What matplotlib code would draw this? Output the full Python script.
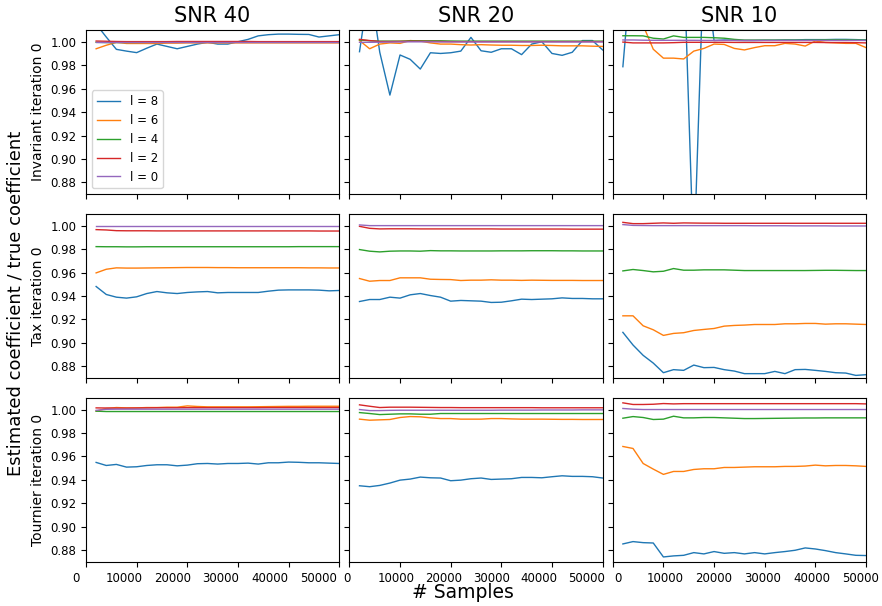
import numpy as np
import matplotlib
matplotlib.use('Agg')
import matplotlib.pyplot as plt
from matplotlib.transforms import ScaledTranslation
from matplotlib.ticker import FormatStrFormatter

# number of samples
samples = np.arange(2000, 50001, 2000)

degrees = [8, 6, 4, 2, 0]
snrs = [40, 20, 10]
methods = ['Invariant', 'Tax', 'Tournier']

# estimated / true coefficient, rows: l = 8, 6, 4, 2, 0
inv_snr40 = [
    [1.015, 1.004, 0.9935, 0.992, 0.9907, 0.9945, 0.998, 0.996, 0.994, 0.996, 0.998, 0.9995, 0.998,
     0.998, 1.000, 1.002, 1.005, 1.006, 1.0065, 1.0065, 1.0063, 1.0062, 1.004, 1.005, 1.006],
    [0.994, 0.997, 0.9995, 0.9985, 0.9985, 0.9985, 0.9985, 0.9988, 0.9988, 0.999, 0.999, 0.999, 0.999,
     0.999, 0.999, 0.999, 0.999, 0.999, 0.999, 0.999, 0.999, 0.999, 0.999, 0.999, 0.999],
    [0.9995, 0.9993, 0.9993, 0.9994, 0.9994, 0.9995, 0.9995, 0.9995, 0.9995, 0.9995, 0.9995, 0.9995, 0.9995,
     0.9995, 0.9995, 0.9995, 0.9995, 0.9995, 0.9995, 0.9995, 0.9995, 0.9995, 0.9995, 0.9995, 0.9995],
    [1.0006, 1.0004, 1.0002, 1.0001, 1.0001, 1.0001, 1.0001, 1.0001, 1.0002, 1.0002, 1.0002, 1.0002, 1.0002,
     1.0002, 1.0002, 1.0002, 1.0001, 1.0001, 1.0001, 1.0001, 1.0001, 1.0001, 1.0001, 1.0001, 1.0001],
    [1.0000, 1.0000, 1.0000, 1.0000, 1.0000, 1.0000, 1.0000, 1.0000, 1.0000, 1.0000, 1.0000, 1.0000, 1.0000,
     1.0000, 1.0000, 1.0000, 1.0000, 1.0000, 1.0000, 1.0000, 1.0000, 1.0000, 1.0000, 1.0000, 1.0000],
]
inv_snr20 = [
    [0.9915, 1.05, 0.991, 0.9545, 0.9887, 0.985, 0.9767, 0.9906, 0.990, 0.9906, 0.992, 1.0037, 0.9923,
     0.991, 0.994, 0.994, 0.989, 0.998, 1.000, 0.990, 0.9884, 0.991, 1.001, 1.001, 0.993],
    [1.001, 0.994, 0.998, 0.999, 0.9986, 1.001, 1.0005, 0.999, 0.998, 0.998, 0.9975, 0.9972, 0.9975,
     0.9972, 0.997, 0.997, 0.9968, 0.9968, 0.997, 0.9968, 0.9965, 0.9965, 0.9965, 0.9962, 0.996],
    [1.0015, 1.0008, 1.0005, 1.0005, 1.0005, 1.0008, 1.0008, 1.0008, 1.0008, 1.0006, 1.0005, 1.0005, 1.0005,
     1.0005, 1.0005, 1.0005, 1.0005, 1.0005, 1.0005, 1.0005, 1.0005, 1.0005, 1.0005, 1.0005, 1.0005],
    [1.002, 1.001, 1.0002, 1.0002, 1.0003, 1.0004, 1.0004, 1.0003, 1.0002, 1.0001, 1.0001, 1.0001, 1.0001,
     1.0001, 1.0001, 1.0001, 1.0001, 1.0001, 1.0001, 1.0001, 1.0001, 1.0001, 1.0001, 1.0001, 1.0001],
    [0.9995, 0.9995, 0.9996, 0.9997, 0.9998, 0.9999, 0.9999, 0.9999, 0.9998, 0.9998, 0.9998, 0.9998, 0.9998,
     0.9998, 0.9998, 0.9998, 0.9998, 0.9998, 0.9998, 0.9998, 0.9998, 0.9998, 0.9998, 0.9998, 0.9998],
]
inv_snr10 = [
    [0.9787, 1.08, 1.06, 1.05, 1.07, 1.04, 1.075, 0.81, 1.075, 1.001, 1.0015, 1.0012, 1.001,
     1.001, 1.0012, 1.0012, 1.0015, 1.0015, 1.0018, 1.0018, 1.0018, 1.002, 1.002, 1.0018, 1.0015],
    [1.02, 1.02, 1.014, 0.9936, 0.986, 0.986, 0.9853, 0.992, 0.9943, 0.998, 0.9977, 0.9943, 0.993,
     0.995, 0.9966, 0.9966, 0.9986, 0.998, 0.9963, 1.0006, 0.9994, 0.999, 0.9986, 0.9986, 0.995],
    [1.0051, 1.0051, 1.005, 1.003, 1.0023, 1.005, 1.0037, 1.0037, 1.0037, 1.0034, 1.003, 1.002, 1.0014,
     1.0014, 1.0014, 1.0014, 1.0014, 1.0014, 1.0014, 1.0014, 1.0016, 1.0016, 1.0016, 1.0015, 1.0014],
    [0.9997, 0.999, 0.999, 0.999, 0.999, 0.9992, 0.9995, 0.9995, 0.9995, 0.9995, 0.9995, 0.9994, 0.9994,
     0.9994, 0.9994, 0.9994, 0.9994, 0.9994, 0.9994, 0.9994, 0.9993, 0.9993, 0.9993, 0.9992, 0.999],
    [1.0015, 1.0015, 1.0013, 1.0012, 1.0012, 1.0012, 1.0012, 1.0012, 1.0011, 1.0011, 1.0011, 1.0011, 1.0011,
     1.0011, 1.0011, 1.0011, 1.0011, 1.0011, 1.0011, 1.0011, 1.0011, 1.0011, 1.0011, 1.0011, 1.0011],
]

tax_snr40 = [
    [0.9481, 0.9413, 0.939, 0.9382, 0.9393, 0.9421, 0.9438, 0.9427, 0.9421, 0.943, 0.9435, 0.9438, 0.9427,
     0.943, 0.943, 0.943, 0.943, 0.9441, 0.945, 0.9452, 0.9452, 0.9452, 0.945, 0.9444, 0.9447],
    [0.9597, 0.9628, 0.964, 0.9638, 0.9638, 0.9639, 0.964, 0.9641, 0.9642, 0.9643, 0.9643, 0.9643, 0.9642,
     0.9642, 0.9641, 0.9641, 0.9641, 0.9641, 0.9641, 0.9641, 0.9641, 0.964, 0.964, 0.9639, 0.9639],
    [0.9821, 0.9820, 0.9820, 0.9819, 0.9819, 0.9820, 0.9820, 0.9820, 0.9820, 0.9820, 0.9820, 0.9820, 0.9820,
     0.9820, 0.9820, 0.9820, 0.9820, 0.9820, 0.9820, 0.9820, 0.9821, 0.9821, 0.9821, 0.9821, 0.9821],
    [0.9966, 0.9963, 0.9957, 0.9956, 0.9956, 0.9956, 0.9955, 0.9955, 0.9955, 0.9955, 0.9955, 0.9955, 0.9955,
     0.9955, 0.9955, 0.9955, 0.9955, 0.9955, 0.9955, 0.9955, 0.9955, 0.9955, 0.9954, 0.9954, 0.9954],
    [1.0000, 1.0000, 1.0000, 1.0000, 1.0000, 1.0000, 1.0000, 1.0000, 1.0000, 1.0000, 1.0000, 1.0000, 1.0000,
     1.0000, 1.0000, 1.0000, 1.0000, 1.0000, 1.0000, 1.0000, 1.0000, 1.0000, 1.0000, 1.0000, 1.0000],
]
tax_snr20 = [
    [0.9353, 0.937, 0.937, 0.939, 0.9382, 0.941, 0.9421, 0.9404, 0.939, 0.9356, 0.9362, 0.9359, 0.9356,
     0.9345, 0.9347, 0.9359, 0.9373, 0.937, 0.9373, 0.9376, 0.9384, 0.9379, 0.9379, 0.9376, 0.9376],
    [0.9549, 0.9526, 0.9532, 0.9532, 0.9555, 0.9555, 0.9555, 0.9543, 0.9541, 0.954, 0.9532, 0.9535, 0.9535,
     0.9538, 0.9535, 0.9535, 0.9533, 0.9535, 0.9534, 0.9533, 0.9533, 0.9533, 0.9532, 0.9532, 0.9532],
    [0.9796, 0.9782, 0.9776, 0.9782, 0.9784, 0.9784, 0.9782, 0.9787, 0.9785, 0.9785, 0.9784, 0.9784, 0.9784,
     0.9784, 0.9785, 0.9785, 0.9785, 0.9786, 0.9786, 0.9786, 0.9785, 0.9785, 0.9784, 0.9784, 0.9784],
    [0.9994, 0.9977, 0.9972, 0.9973, 0.9973, 0.9973, 0.9972, 0.9972, 0.9972, 0.9972, 0.9972, 0.9972, 0.9972,
     0.9972, 0.9971, 0.9971, 0.9971, 0.9971, 0.9971, 0.9971, 0.9971, 0.9970, 0.9970, 0.9970, 0.9970],
    [1.0006, 1.0000, 1.0000, 1.0000, 1.0000, 1.0000, 1.0000, 1.0000, 1.0000, 1.0000, 1.0000, 1.0000, 1.0000,
     1.0000, 1.0000, 1.0000, 1.0000, 1.0000, 1.0000, 1.0000, 1.0000, 1.0000, 1.0000, 1.0000, 1.0000],
]
tax_snr10 = [
    [0.909, 0.8982, 0.8894, 0.8828, 0.8746, 0.8772, 0.8766, 0.8811, 0.8789, 0.8791, 0.8772, 0.876, 0.8738,
     0.8738, 0.8738, 0.8757, 0.8738, 0.8772, 0.8774, 0.8766, 0.8757, 0.8746, 0.8743, 0.8723, 0.8729],
    [0.9231, 0.9231, 0.9146, 0.9112, 0.9064, 0.9081, 0.9087, 0.9106, 0.9115, 0.9123, 0.9143, 0.9149, 0.9152,
     0.9157, 0.9157, 0.9157, 0.9163, 0.9163, 0.9166, 0.9166, 0.916, 0.9163, 0.9163, 0.916, 0.9157],
    [0.9614, 0.9626, 0.9617, 0.9606, 0.9611, 0.9634, 0.962, 0.962, 0.9623, 0.9623, 0.9623, 0.962, 0.9617,
     0.9617, 0.9617, 0.9617, 0.9617, 0.9617, 0.9617, 0.9618, 0.9619, 0.9619, 0.9618, 0.9617, 0.9617],
    [1.0028, 1.0017, 1.0017, 1.002, 1.0023, 1.002, 1.0023, 1.0022, 1.0021, 1.0021, 1.002, 1.002, 1.002,
     1.002, 1.002, 1.002, 1.002, 1.002, 1.002, 1.002, 1.002, 1.002, 1.002, 1.002, 1.002],
    [1.0009, 1.0002, 1.0001, 1.0000, 1.0000, 1.0000, 1.0000, 1.0000, 1.0000, 1.0000, 1.0000, 1.0000, 1.0000,
     0.9999, 0.9999, 0.9999, 0.9999, 0.9998, 0.9998, 0.9998, 0.9998, 0.9997, 0.9997, 0.9997, 0.9997],
]

tour_snr40 = [
    [0.9549, 0.9523, 0.9532, 0.9509, 0.9512, 0.9523, 0.9529, 0.9529, 0.952, 0.9526, 0.9538, 0.954, 0.9535,
     0.954, 0.954, 0.9543, 0.9535, 0.9546, 0.9546, 0.9552, 0.955, 0.9546, 0.9546, 0.9543, 0.954],
    [0.9986, 1.0009, 1.0017, 1.0014, 1.0014, 1.0017, 1.0017, 1.002, 1.002, 1.0031, 1.0026, 1.0023, 1.0023,
     1.0023, 1.0023, 1.0023, 1.0024, 1.0025, 1.0026, 1.0027, 1.0027, 1.0028, 1.0028, 1.0028, 1.0028],
    [0.9986, 0.9983, 0.9983, 0.9983, 0.9983, 0.9983, 0.9983, 0.9983, 0.9983, 0.9983, 0.9983, 0.9983, 0.9983,
     0.9983, 0.9983, 0.9983, 0.9983, 0.9983, 0.9983, 0.9983, 0.9983, 0.9983, 0.9983, 0.9983, 0.9983],
    [1.0014, 1.0013, 1.0012, 1.0012, 1.0013, 1.0014, 1.0015, 1.0015, 1.0015, 1.0016, 1.0016, 1.0016, 1.0016,
     1.0016, 1.0016, 1.0016, 1.0016, 1.0017, 1.0017, 1.0017, 1.0017, 1.0017, 1.0017, 1.0017, 1.0017],
    [0.9993, 1.0002, 1.0003, 1.0003, 1.0003, 1.0003, 1.0003, 1.0003, 1.0003, 1.0003, 1.0003, 1.0003, 1.0003,
     1.0003, 1.0003, 1.0003, 1.0003, 1.0003, 1.0003, 1.0003, 1.0003, 1.0003, 1.0003, 1.0003, 1.0003],
]
tour_snr20 = [
    [0.935, 0.9342, 0.9353, 0.9373, 0.9398, 0.9407, 0.9424, 0.9418, 0.9416, 0.9393, 0.9398, 0.941, 0.9416,
     0.9404, 0.9407, 0.941, 0.9421, 0.9421, 0.9418, 0.9427, 0.9435, 0.943, 0.943, 0.9427, 0.9416],
    [0.9918, 0.9909, 0.9912, 0.9915, 0.9932, 0.994, 0.9938, 0.9929, 0.9923, 0.9923, 0.9918, 0.9918, 0.9918,
     0.9923, 0.9923, 0.992, 0.9918, 0.9918, 0.9918, 0.9917, 0.9916, 0.9916, 0.9915, 0.9915, 0.9915],
    [0.9974, 0.9966, 0.9957, 0.996, 0.9963, 0.9963, 0.996, 0.996, 0.9966, 0.9966, 0.9966, 0.9966, 0.9966,
     0.9966, 0.9966, 0.9966, 0.9966, 0.9966, 0.9966, 0.9966, 0.9966, 0.9966, 0.9966, 0.9966, 0.9966],
    [1.004, 1.0028, 1.0017, 1.002, 1.002, 1.002, 1.0019, 1.0018, 1.0017, 1.0017, 1.0016, 1.0016, 1.0016,
     1.0016, 1.0016, 1.0016, 1.0016, 1.0016, 1.0015, 1.0015, 1.0015, 1.0015, 1.0015, 1.0015, 1.0015],
    [1.0000, 0.9991, 0.9991, 0.9993, 0.9994, 0.9994, 0.9994, 0.9994, 0.9994, 0.9994, 0.9994, 0.9994, 0.9994,
     0.9994, 0.9995, 0.9995, 0.9995, 0.9995, 0.9996, 0.9996, 0.9996, 0.9996, 0.9997, 0.9997, 0.9997],
]
tour_snr10 = [
    [0.8854, 0.8874, 0.8865, 0.8862, 0.8743, 0.8752, 0.8757, 0.878, 0.8769, 0.8789, 0.8774, 0.878, 0.8769,
     0.878, 0.8769, 0.878, 0.8789, 0.880, 0.882, 0.8811, 0.8797, 0.878, 0.8769, 0.8757, 0.8755],
    [0.9685, 0.9668, 0.954, 0.9492, 0.9447, 0.9472, 0.9472, 0.9489, 0.9495, 0.9495, 0.9506, 0.9506, 0.9509,
     0.9512, 0.9512, 0.9512, 0.9515, 0.9515, 0.9518, 0.9526, 0.952, 0.9523, 0.9523, 0.952, 0.9515],
    [0.9926, 0.994, 0.9932, 0.9915, 0.9918, 0.9943, 0.9929, 0.9929, 0.9932, 0.9932, 0.9929, 0.9926, 0.9923,
     0.9923, 0.9924, 0.9925, 0.9926, 0.9927, 0.9928, 0.9928, 0.9929, 0.9929, 0.9929, 0.9929, 0.9929],
    [1.0057, 1.0043, 1.0043, 1.0045, 1.0051, 1.0048, 1.005, 1.005, 1.005, 1.005, 1.005, 1.005, 1.005,
     1.005, 1.005, 1.005, 1.005, 1.005, 1.005, 1.005, 1.005, 1.005, 1.005, 1.005, 1.0048],
    [1.0009, 1.0003, 1.0, 1.0, 1.0, 1.0, 1.0, 1.0, 1.0, 1.0, 1.0, 1.0, 1.0,
     1.0, 1.0, 1.0, 1.0, 1.0, 1.0, 1.0, 1.0, 1.0, 1.0, 1.0, 1.0],
]

panels = [[inv_snr40, inv_snr20, inv_snr10],
          [tax_snr40, tax_snr20, tax_snr10],
          [tour_snr40, tour_snr20, tour_snr10]]

# the x tick labels of the original sit a bit left of their ticks (pixels)
label_shift = [[-10, -12, -15, -17, -19, -21],
               [-2, -4, -7, -10, -13, -16],
               [5, 2, 0, -2, -3, -5]]

fig, axes = plt.subplots(3, 3, figsize=(8.82, 6.06), dpi=100, sharex=True, sharey=True)
fig.subplots_adjust(left=86/882, right=866/882, top=1-30/606, bottom=1-562/606,
                    wspace=0.04, hspace=0.12)

for r in range(3):
    for c in range(3):
        ax = axes[r, c]
        for k, l in enumerate(degrees):
            ax.plot(samples, panels[r][c][k], lw=1.0, label=f'l = {l}')
        ax.set_xlim(0, 50000)
        ax.set_ylim(0.87, 1.01)
        ax.set_xticks([0, 10000, 20000, 30000, 40000, 50000])
        ax.set_yticks([0.88, 0.90, 0.92, 0.94, 0.96, 0.98, 1.00])
        ax.tick_params(labelsize=8.5)
        if r == 0:
            ax.set_title(f'SNR {snrs[c]}', fontsize=15)
        if c == 0:
            ax.set_ylabel(f'{methods[r]} iteration 0', fontsize=10)

axes[0, 0].yaxis.set_major_formatter(FormatStrFormatter('%.2f'))
axes[0, 0].legend(loc='lower left', fontsize=8.5)

for c in range(3):
    ax = axes[2, c]
    for j, lab in enumerate(ax.get_xticklabels()):
        dx = label_shift[c][j] / 100
        lab.set_transform(lab.get_transform() + ScaledTranslation(dx, 0, fig.dpi_scale_trans))

fig.text(0.018, 0.5, 'Estimated coefficient / true coefficient', rotation=90,
         ha='center', va='center', fontsize=13)
fig.text(0.525, 0.022, '# Samples', ha='center', va='center', fontsize=13.5)

plt.savefig('out.png', dpi=100)
